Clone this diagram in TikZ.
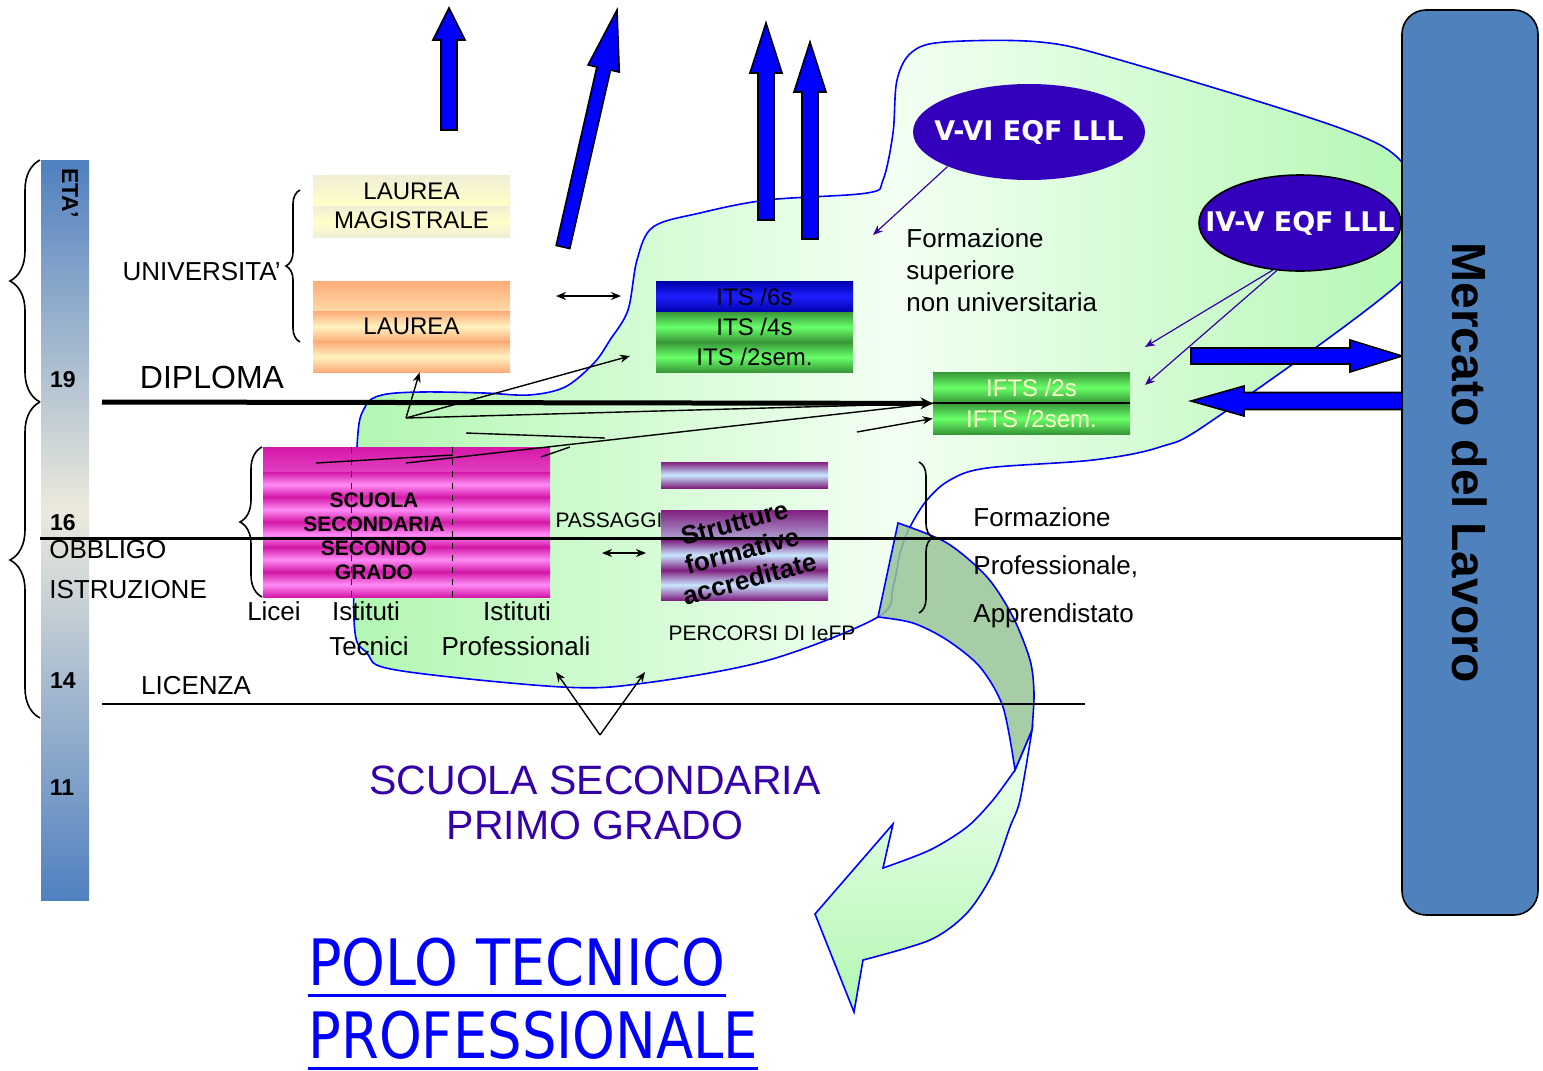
\documentclass[tikz,border=0pt]{standalone}
\usepackage{fontspec}
\setmainfont{Liberation Sans}
\newfontfamily\eqffont{DejaVu Sans}
\newfontfamily\titlefont{DejaVu Sans}
\usetikzlibrary{arrows.meta,calc,decorations.pathreplacing,shapes.geometric}

\definecolor{blobgreen}{RGB}{178,247,178}
\definecolor{blobpale}{RGB}{242,255,242}
\definecolor{arrblue}{RGB}{0,0,255}
\definecolor{eqfblue}{RGB}{51,0,187}
\definecolor{indigo}{RGB}{51,0,170}
\definecolor{mercato}{RGB}{79,129,189}
\definecolor{pinkA}{RGB}{212,24,168}
\definecolor{pinkB}{RGB}{255,140,245}
\definecolor{orangeA}{RGB}{253,172,120}
\definecolor{orangeB}{RGB}{255,242,192}
\definecolor{yellowA}{RGB}{240,238,214}
\definecolor{yellowB}{RGB}{255,255,200}
\definecolor{purpleA}{RGB}{128,32,128}
\definecolor{purpleB}{RGB}{200,232,255}
\definecolor{greenA}{RGB}{56,150,56}
\definecolor{greenB}{RGB}{104,255,104}
\definecolor{blueA}{RGB}{0,0,170}
\definecolor{blueB}{RGB}{30,30,255}
\definecolor{etaA}{RGB}{80,128,192}
\definecolor{etaB}{RGB}{236,234,220}
\definecolor{sage}{RGB}{150,196,150}
\definecolor{iftstext}{RGB}{255,250,205}

% tail, tip, half shaft, half head, head length
\newcommand{\bigarrow}[5]{%
  \coordinate (ba) at ($(#2)!#5!(#1)$);
  \draw[bigarr] ($(#1)!#3!90:(#2)$) -- ($(ba)!#3!90:(#2)$) -- ($(ba)!#4!90:(#2)$) -- (#2)
    -- ($(ba)!#4!-90:(#2)$) -- ($(ba)!#3!-90:(#2)$) -- ($(#1)!#3!-90:(#2)$) -- cycle;}

\begin{document}
\begin{tikzpicture}[x=0.5pt,y=-0.5pt]
    \tikzset{lbl/.style={inner sep=0pt,font=\fontsize{13}{16}\selectfont},
        age/.style={inner sep=0pt,font=\bfseries\fontsize{11.5}{13}\selectfont},
        banded/.style n args={3}{inner sep=0pt,path picture={
            \foreach \k in {1,...,#1}
                \shade[top color=#2,bottom color=#2,middle color=#3]
                    ($(path picture bounding box.north west)!{(\k-1)/#1}!(path picture bounding box.south west)$)
                    rectangle
                    ($(path picture bounding box.north east)!{\k/#1}!(path picture bounding box.south east)$);}},
        conn/.style={line width=0.7pt,-{Stealth[length=5pt,width=4pt]}},
        dconn/.style={line width=0.7pt,{Stealth[length=5pt,width=4pt]}-{Stealth[length=5pt,width=4pt]}},
        bigarr/.style={fill=arrblue,draw=black,line width=0.8pt},
        eqf/.style={ellipse,fill=eqfblue,inner sep=0pt},
        eqftxt/.style={text=white,inner sep=0pt,font=\eqffont\bfseries\fontsize{13.5}{16}\selectfont},
        hbrace/.style={decorate,line width=0.8pt,decoration={brace,amplitude=#1}}}
    \useasboundingbox (0,0) rectangle (1543,1071);

    % age bar
    \shade[top color=etaA,bottom color=etaB] (41,160) rectangle (89,510);
    \shade[top color=etaB,bottom color=etaA] (41,510) rectangle (89,900);

    % green area
    \shadedraw[draw=arrblue,line width=0.8pt,left color=blobgreen,right color=blobgreen,middle color=blobpale]
        plot[smooth cycle,tension=0.55] coordinates {(357,447) (365,407) (382,395) (422,392) (484,393)
        (529,395) (565,387) (594,363) (610,340) (628,310) (637,260) (653,227) (700,213) (767,200)
        (867,193) (883,180) (893,133) (897,80) (912,52) (945,42) (1040,42) (1120,60) (1337,127)
        (1403,163) (1425,220) (1403,280) (1213,420) (1160,447) (1093,460) (987,468) (950,480)
        (927,500) (910,527) (900,553) (893,587) (878,617) (769,660) (645,683) (562,687) (396,670)
        (367,653) (354,620)};

    % curved arrow
    \shadedraw[draw=arrblue,line width=0.8pt,top color=blobpale,bottom color=blobgreen]
        plot[smooth] coordinates {(1032,730) (1020,800) (1010,827) (993,873) (967,913) (930,940) (863,960)}
        -- (854,1012) -- (815,914) -- (893,824) -- (883,868)
        -- plot[smooth] coordinates {(883,868) (930,850) (967,827) (993,800) (1015,770)} -- cycle;
    \filldraw[draw=arrblue,line width=0.8pt,fill=sage,fill opacity=0.85]
        plot[smooth] coordinates {(898,523) (947,543) (987,577) (1013,617) (1030,660) (1034,693) (1032,730)}
        -- (1015,770)
        -- plot[smooth] coordinates {(1015,770) (1003,707) (980,667) (947,640) (913,623) (878,617)} -- cycle;

    % boxes
    \node[banded={2}{yellowA}{yellowB},minimum width=98.5pt,minimum height=31pt,align=center,
        font=\fontsize{12}{14.5}\selectfont] (magis) at (411.5,206) {LAUREA\\MAGISTRALE};
    \node[banded={3}{orangeA}{orangeB},minimum width=98.5pt,minimum height=45.5pt,
        font=\fontsize{12}{14.5}\selectfont] (laurea) at (411.5,326.5) {LAUREA};
    \node[banded={1}{blueA}{blueB},minimum width=98.5pt,minimum height=15.5pt,
        font=\fontsize{12}{14.5}\selectfont] (its6) at (754.5,296.5) {ITS /6s};
    \node[banded={1}{greenA}{greenB},minimum width=98.5pt,minimum height=15pt,
        font=\fontsize{12}{14.5}\selectfont] (its4) at (754.5,327) {ITS /4s};
    \node[banded={1}{greenA}{greenB},minimum width=98.5pt,minimum height=15pt,
        font=\fontsize{12}{14.5}\selectfont] (its2) at (754.5,357) {ITS /2sem.};
    \node[banded={1}{greenA}{greenB},minimum width=98.5pt,minimum height=15.5pt,text=iftstext,
        font=\fontsize{12}{14.5}\selectfont] (ifts2) at (1031.5,387.5) {IFTS /2s};
    \node[banded={1}{greenA}{greenB},minimum width=98.5pt,minimum height=15.5pt,text=iftstext,
        font=\fontsize{12}{14.5}\selectfont] (ifts2sem) at (1031.5,418.5) {IFTS /2sem.};
    \node[banded={6}{pinkA}{pinkB},minimum width=143.5pt,minimum height=75pt] (sec2) at (406.5,522) {};
    \foreach \dx in {44.5,95}
        \draw[dashed,line width=0.7pt] ([xshift=\dx pt]sec2.north west) -- ([xshift=\dx pt]sec2.south west);
    \node[banded={1}{purpleA}{purpleB},minimum width=83.5pt,minimum height=13pt] (strtop) at (744.5,475) {};
    \node[banded={3}{purpleA}{purpleB},minimum width=83.5pt,minimum height=45pt] (strut) at (744.5,555) {};

    % block arrows
    \coordinate (a1t) at (449,130); \coordinate (a1h) at (449,8);
    \coordinate (a2t) at (563,247); \coordinate (a2h) at (617,10);
    \coordinate (a3t) at (766,220); \coordinate (a3h) at (766,23);
    \coordinate (a4t) at (810,239); \coordinate (a4h) at (810,42);
    \coordinate (a5t) at (1191,356); \coordinate (a5h) at (1402,356);
    \coordinate (a6t) at (1402,401); \coordinate (a6h) at (1191,401);
    \bigarrow{a1t}{a1h}{4pt}{8pt}{16pt}
    \bigarrow{a2t}{a2h}{3.5pt}{8pt}{30pt}
    \bigarrow{a3t}{a3h}{4pt}{8pt}{25pt}
    \bigarrow{a4t}{a4h}{4pt}{8pt}{25pt}
    \bigarrow{a5t}{a5h}{4pt}{8pt}{26pt}
    \bigarrow{a6t}{a6h}{4.25pt}{7.5pt}{26.5pt}

    % EQF levels
    \node[eqf,minimum width=116pt,minimum height=48pt,label={[eqftxt]center:V-VI EQF LLL}] (eqf56) at (1029,132) {};
    \node[eqf,draw=black,line width=0.8pt,minimum width=101pt,minimum height=48pt,
        label={[eqftxt]center:IV-V EQF LLL}] (eqf45) at (1300,223) {};

    % labour market
    \node[draw=black,line width=0.8pt,fill=mercato,rounded corners=12pt,rotate=-90,
        minimum width=452.5pt,minimum height=68pt,font=\bfseries\fontsize{24}{28}\selectfont] (mercato)
        at (1470,462.5) {Mercato del Lavoro};

    % levels
    \coordinate (dipw) at (102,402);
    \coordinate (o16w) at (40,538); \coordinate (o16e) at (1402,538);
    \coordinate (licw) at (102,704); \coordinate (lice) at (1085,704);
    \draw[line width=2.5pt,-{Stealth[length=6pt,width=6pt]}] (dipw) -- (ifts2.south west);
    \draw[line width=1pt] (ifts2.south west) -- (ifts2.south east);
    \draw[line width=1.5pt] (o16w) -- (o16e);
    \draw[line width=1pt] (licw) -- (lice);

    % braces
    \draw[hbrace=15pt] (40,402) -- (40,160);
    \draw[hbrace=15pt] (40,718) -- (40,402);
    \draw[hbrace=7pt] (300,342) -- (300,190);
    \draw[hbrace=11pt] (262,597) -- (262,447);
    \draw[hbrace=7pt] (919,462) -- (919,613);

    % ages
    \node[age,rotate=-90] (eta) at (70,193) {ETA’};
    \node[age] (a19) at (63,380) {19};
    \node[age] (a16) at (63,523) {16};
    \node[age] (a14) at (63,681) {14};
    \node[age] (a11) at (62,788) {11};

    % labels
    \node[lbl,anchor=west] (obbligo) at (49,550) {OBBLIGO};
    \node[lbl,anchor=west] (istruz) at (49,590) {ISTRUZIONE};
    \node[lbl,font=\fontsize{16}{19}\selectfont] (diploma) at (212,377) {DIPLOMA};
    \node[lbl,anchor=east] (univ) at (281,272) {UNIVERSITA’};
    \node[lbl] (licenza) at (196,686) {LICENZA};
    \node[align=center,inner sep=0pt,font=\bfseries\fontsize{10.5}{12}\selectfont] (sec2txt)
        at (374,536) {SCUOLA\\SECONDARIA\\SECONDO\\GRADO};
    \node[lbl] (licei) at (274,611) {Licei};
    \node[lbl] (ist1) at (366,611) {Istituti};
    \node[lbl] (tecn) at (369,646) {Tecnici};
    \node[lbl] (ist2) at (517,611) {Istituti};
    \node[lbl] (profi) at (516,646) {Professionali};
    \node[lbl,font=\fontsize{10.5}{12}\selectfont] (pass) at (609,520) {PASSAGGI};
    \node[rotate=15,align=center,inner sep=0pt,font=\bfseries\fontsize{13}{14.5}\selectfont] (struttxt)
        at (742,551) {Strutture\\formative\\accreditate};
    \node[lbl,font=\fontsize{10.5}{12}\selectfont] (iefp) at (762,633) {PERCORSI DI IeFP};
    \node[lbl,anchor=west,align=left] (fsnu) at (906,270) {Formazione\\superiore\\non universitaria};
    \node[lbl,anchor=west,align=left,font=\fontsize{13}{24}\selectfont] (fpa) at (973,568)
        {Formazione\\Professionale,\\Apprendistato};
    \node[align=center,inner sep=0pt,text=indigo,font=\fontsize{20.5}{22.5}\selectfont] (primo)
        at (595,803) {SCUOLA SECONDARIA\\PRIMO GRADO};
    \node[anchor=west,inner sep=0pt,text=arrblue,font=\titlefont\fontsize{32}{36}\selectfont] (polo)
        at (308,962) {\scalebox{0.87}[1]{POLO TECNICO}};
    \node[anchor=west,inner sep=0pt,text=arrblue,font=\titlefont\fontsize{32}{36}\selectfont] (profe)
        at (308,1035) {\scalebox{0.85}[1]{PROFESSIONALE}};
    \draw[arrblue,line width=1.5pt] ([yshift=-5pt]polo.base west) -- ([yshift=-5pt]polo.base east);
    \draw[arrblue,line width=1.5pt] ([yshift=-5pt]profe.base west) -- ([yshift=-5pt]profe.base east);

    % connectors
    \coordinate (fork) at (406,418);
    \coordinate (itsin) at (630,356);
    \coordinate (l1a) at (466,433); \coordinate (l1b) at (605,438);
    \coordinate (l2a) at (316,463); \coordinate (l2b) at (453,455);
    \coordinate (l3a) at (406,463);
    \coordinate (l4a) at (541,457); \coordinate (l4b) at (570,447);
    \coordinate (ifin) at (857,432);
    \coordinate (univa) at (556,296); \coordinate (univb) at (621,296);
    \coordinate (passa) at (602,553); \coordinate (passb) at (646,553);
    \coordinate (licfork) at (600,735); \coordinate (lic1) at (556,672); \coordinate (lic2) at (645,672);
    \coordinate (fsin) at (873,235);
    \coordinate (fs1) at (1145,347); \coordinate (fs2) at (1145,385);
    \draw[conn] (fork) -- ([xshift=4pt]laurea.south);
    \draw[conn] (fork) -- (itsin);
    \draw[line width=0.7pt] (fork) -- (ifts2.south west);
    \draw[line width=0.7pt] (l3a) -- (ifts2.south west);
    \draw[line width=0.7pt] (l1a) -- (l1b);
    \draw[line width=0.7pt] (l2a) -- (l2b);
    \draw[line width=0.7pt] (l4a) -- (l4b);
    \draw[conn] (ifin) -- (ifts2sem.west);
    \draw[dconn] (univa) -- (univb);
    \draw[dconn] (passa) -- (passb);
    \draw[conn] (licfork) -- (lic1);
    \draw[conn] (licfork) -- (lic2);
    \draw[conn,indigo,line width=0.6pt] (eqf56.203) -- (fsin);
    \draw[conn,indigo,line width=0.6pt] (eqf45.240) -- (fs1);
    \draw[conn,indigo,line width=0.6pt] (eqf45.244) -- (fs2);
\end{tikzpicture}
\end{document}
